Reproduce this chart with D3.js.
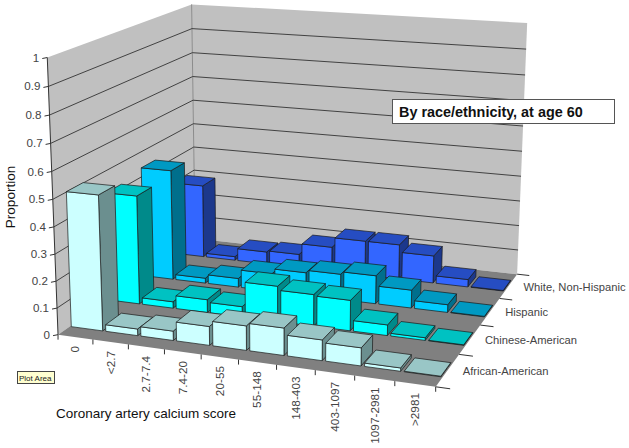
<!DOCTYPE html>
<html>
<head>
<meta charset="utf-8">
<script src="https://cdn.jsdelivr.net/npm/d3@7"></script>
<style>
  html, body { margin: 0; padding: 0; background: #fff; }
  text { font-family: "Liberation Sans", Arial, sans-serif; }
</style>
</head>
<body>
<div id="chart"></div>
<script>
const categories = ["0", "<2.7", "2.7-7.4", "7.4-20", "20-55", "55-148", "148-403", "403-1097", "1097-2981", ">2981"];
const seriesNames = ["African-American", "Chinese-American", "Hispanic", "White, Non-Hispanic"];
const africanAmerican = [0.505, 0.025, 0.035, 0.07, 0.09, 0.1, 0.075, 0.065, 0.012, 0.002];
const chineseAmerican = [0.42, 0.025, 0.05, 0.04, 0.135, 0.12, 0.115, 0.04, 0.01, 0.002];
const hispanic = [0.44, 0.02, 0.035, 0.07, 0.09, 0.1, 0.11, 0.07, 0.03, 0.002];
const whiteNonHispanic = [0.3, 0.015, 0.05, 0.055, 0.1, 0.14, 0.14, 0.11, 0.03, 0.002];
const seriesValues = [africanAmerican, chineseAmerican, hispanic, whiteNonHispanic];
const proportionTicks = d3.range(0, 11).map((d) => d / 10);

const seriesColors = [
  { front: "#ccffff", top: "#99c6c6", side: "#6b8f8f" },
  { front: "#00ffff", top: "#00c2c2", side: "#008a8a" },
  { front: "#00ccff", top: "#0099c2", side: "#006f8c" },
  { front: "#3366ff", top: "#264dc2", side: "#1c388c" },
];

const width = 629;
const height = 448;

const svg = d3
  .select("#chart")
  .append("svg")
  .attr("width", width)
  .attr("height", height)
  .style("display", "block");

// camera fitted to where the box corners sit on the page: [u, v, h, px, py]
const pins = [
  [0, 0, 0, 58, 334],
  [1, 0, 0, 436, 387],
  [1, 1, 0, 517, 274],
  [0, 1, 0, 195, 239],
  [0, 0, 1, 47, 58],
  [0, 1, 1, 192, 4],
  [1, 1, 1, 527, 23],
];

function solve(A, b) {
  const n = b.length;
  const m = A.map((row, i) => [...row, b[i]]);
  for (let i = 0; i < n; i++) {
    let p = i;
    for (let r = i + 1; r < n; r++) if (Math.abs(m[r][i]) > Math.abs(m[p][i])) p = r;
    [m[i], m[p]] = [m[p], m[i]];
    for (let r = 0; r < n; r++) {
      if (r === i) continue;
      const f = m[r][i] / m[i][i];
      for (let c = i; c <= n; c++) m[r][c] -= f * m[i][c];
    }
  }
  return m.map((row, i) => row[n] / row[i]);
}

function fitCamera() {
  const rows = [];
  const rhs = [];
  pins.forEach(([u, v, h, px, py]) => {
    const sx = px / 500;
    const sy = py / 500;
    rows.push([u, v, h, 1, 0, 0, 0, 0, -sx * u, -sx * v, -sx * h]);
    rhs.push(sx);
    rows.push([0, 0, 0, 0, u, v, h, 1, -sy * u, -sy * v, -sy * h]);
    rhs.push(sy);
  });
  const n = 11;
  const AtA = d3.range(n).map((i) => d3.range(n).map((j) => d3.sum(rows, (r) => r[i] * r[j])));
  const Atb = d3.range(n).map((i) => d3.sum(rows, (r, k) => r[i] * rhs[k]));
  return solve(AtA, Atb);
}

const cam = fitCamera();

function project(u, v, h) {
  const w = cam[8] * u + cam[9] * v + cam[10] * h + 1;
  return [
    (500 * (cam[0] * u + cam[1] * v + cam[2] * h + cam[3])) / w,
    (500 * (cam[4] * u + cam[5] * v + cam[6] * h + cam[7])) / w,
  ];
}

const xScale = d3.scaleBand().domain(categories).range([0, 1]).paddingInner(0.09).paddingOuter(0.045);
const xBand = d3.scaleBand().domain(categories).range([0, 1]);
const zScale = d3.scaleBand().domain(seriesNames).range([0, 1]).paddingInner(0.58).paddingOuter(0.29);
const zBand = d3.scaleBand().domain(seriesNames).range([0, 1]);
const yScale = d3.scaleLinear().domain([0, 1]).range([0, 1]);

const line = d3.line();
const poly = (pts) => line(pts.map((p) => project(p[0], p[1], p[2]))) + "Z";

// walls and floor
const box = svg.append("g");
box.append("path").attr("d", poly([[0, 0, 0], [0, 1, 0], [0, 1, 1], [0, 0, 1]])).attr("fill", "#c0c0c0");
box.append("path").attr("d", poly([[0, 1, 0], [1, 1, 0], [1, 1, 1], [0, 1, 1]])).attr("fill", "#c0c0c0");
box.append("path").attr("d", poly([[0, 0, 0], [1, 0, 0], [1, 1, 0], [0, 1, 0]])).attr("fill", "#808080");
box.append("path").attr("d", line([project(0, 1, 0), project(0, 1, 1)])).attr("stroke", "#8c8c8c").attr("fill", "none");

// gridlines run along the left wall then the back wall
proportionTicks.slice(1).forEach((t) => {
  const h = yScale(t);
  box
    .append("path")
    .attr("d", line([project(0, 0, h), project(0, 1, h), project(1, 1, h)]))
    .attr("fill", "none")
    .attr("stroke", t === 1 ? "none" : "#333")
    .attr("stroke-width", 0.9);
});

// value axis
box.append("path").attr("d", line([project(0, 0, 0), project(0, 0, 1)])).attr("stroke", "#333").attr("fill", "none");
proportionTicks.forEach((t) => {
  const [x, y] = project(0, 0, yScale(t));
  box.append("line").attr("x1", x - 5).attr("x2", x).attr("y1", y + 1).attr("y2", y).attr("stroke", "#333");
  svg
    .append("text")
    .attr("x", x - 8)
    .attr("y", y + 4)
    .attr("text-anchor", "end")
    .attr("font-size", 11.6)
    .attr("fill", "#444")
    .text(t);
});

// category axis
categories.concat([null]).forEach((c) => {
  const u = c === null ? 1 : xBand(c);
  const [x, y] = project(u, 0, 0);
  box.append("line").attr("x1", x).attr("x2", x).attr("y1", y).attr("y2", y + 5).attr("stroke", "#333");
});
categories.forEach((c) => {
  const [x, y] = project(xBand(c) + xBand.bandwidth() / 2, 0, 0);
  svg
    .append("text")
    .attr("transform", `translate(${x + 4},${y + 9}) rotate(-90)`)
    .attr("text-anchor", "end")
    .attr("font-size", 11.8)
    .attr("fill", "#444")
    .text(c);
});

// series axis
seriesNames.forEach((s) => {
  const [x, y] = project(1, zBand(s) + zBand.bandwidth() / 2, 0);
  svg
    .append("text")
    .attr("x", x + 15)
    .attr("y", y + 5)
    .attr("font-size", 11.2)
    .attr("fill", "#444")
    .text(s);
});
d3.range(0, 5).forEach((i) => {
  const v = i / 4;
  const a = project(1, v, 0);
  const b = project(1.035, v, 0);
  box.append("path").attr("d", line([a, b])).attr("stroke", "#333").attr("fill", "none");
});

// bars, back row first, left to right
const bars = svg.append("g").attr("stroke", "#1a1a1a").attr("stroke-width", 0.7).attr("stroke-linejoin", "round");
seriesNames
  .map((s, i) => i)
  .reverse()
  .forEach((si) => {
    const s = seriesNames[si];
    const v0 = zScale(s);
    const v1 = v0 + zScale.bandwidth();
    categories.forEach((c, ci) => {
      const u0 = xScale(c);
      const u1 = u0 + xScale.bandwidth();
      const h = yScale(seriesValues[si][ci]);
      const col = seriesColors[si];
      const g = bars.append("g");
      g.append("path").attr("d", poly([[u1, v0, 0], [u1, v1, 0], [u1, v1, h], [u1, v0, h]])).attr("fill", col.side);
      g.append("path").attr("d", poly([[u0, v0, 0], [u1, v0, 0], [u1, v0, h], [u0, v0, h]])).attr("fill", col.front);
      g.append("path").attr("d", poly([[u0, v0, h], [u1, v0, h], [u1, v1, h], [u0, v1, h]])).attr("fill", col.top);
    });
  });

// titles
svg
  .append("text")
  .attr("transform", "translate(15,197) rotate(-90)")
  .attr("text-anchor", "middle")
  .attr("font-size", 13.5)
  .attr("fill", "#111")
  .text("Proportion");
svg
  .append("text")
  .attr("x", 56)
  .attr("y", 418)
  .attr("font-size", 13.5)
  .attr("fill", "#111")
  .text("Coronary artery calcium score");

// annotation box
svg.append("rect").attr("x", 392.5).attr("y", 99.5).attr("width", 222).attr("height", 24).attr("fill", "#fff").attr("stroke", "#555");
svg
  .append("text")
  .attr("x", 399)
  .attr("y", 117)
  .attr("font-size", 14.4)
  .attr("font-weight", "bold")
  .attr("fill", "#111")
  .text("By race/ethnicity, at age 60");

// leftover Excel tooltip
svg.append("rect").attr("x", 17.5).attr("y", 371.5).attr("width", 37).attr("height", 12).attr("fill", "#ffffd0").attr("stroke", "#444");
svg.append("text").attr("x", 19).attr("y", 380.5).attr("font-size", 8).attr("fill", "#222").text("Plot Area");
</script>
</body>
</html>
